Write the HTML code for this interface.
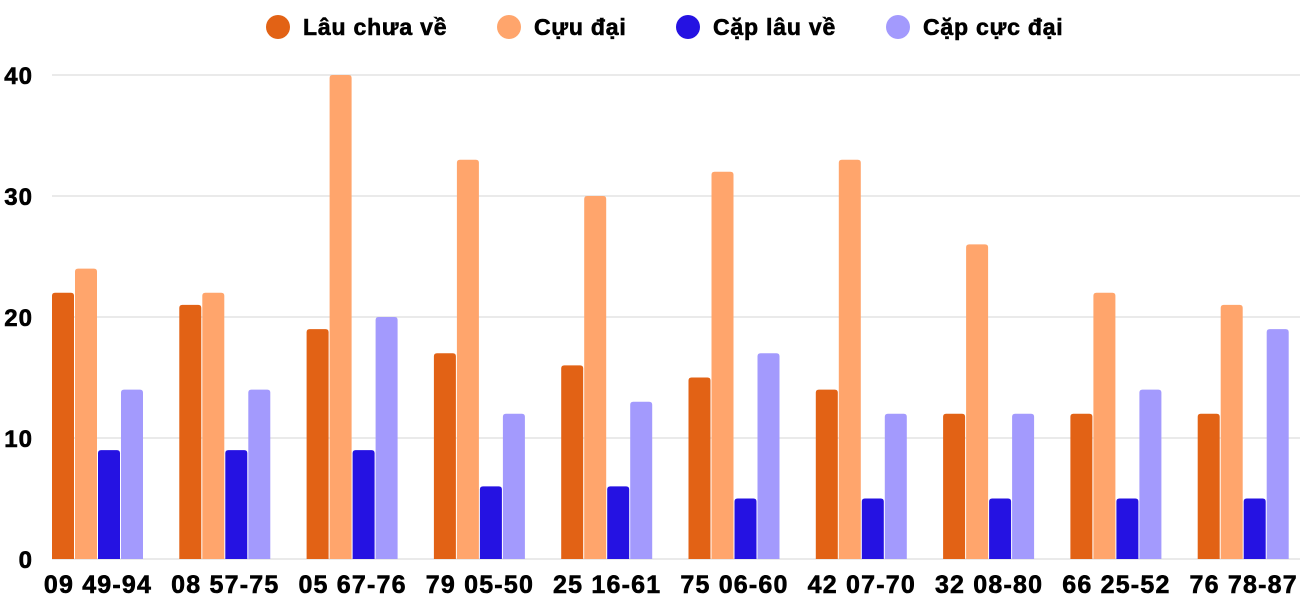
<!DOCTYPE html>
<html><head><meta charset="utf-8"><style>
body{margin:0;background:#fff;font-family:"Liberation Sans",sans-serif;}
svg text{font-family:"Liberation Sans",sans-serif;font-weight:bold;fill:#000;stroke:#000;stroke-width:0.6px;}
</style></head><body>
<svg id="chart" width="1300" height="600" viewBox="0 0 1300 600" xmlns="http://www.w3.org/2000/svg"></svg>
<script>
const categories=["09 49-94","08 57-75","05 67-76","79 05-50","25 16-61","75 06-60","42 07-70","32 08-80","66 25-52","76 78-87"];
const lauChuaVe=[22,21,19,17,16,15,14,12,12,12];
const cucDai=[24,22,40,33,30,32,33,26,22,21];
const capLauVe=[9,9,9,6,6,5,5,5,5,5];
const capCucDai=[14,14,20,12,13,17,12,12,14,19];
const yTicks=[0,10,20,30,40];
const seriesNames=["Lâu chưa về","Cựu đại","Cặp lâu về","Cặp cực đại"];
const colors=["#E26215","#FFA56C","#2512E2","#A39AFD"];
const series=[lauChuaVe,cucDai,capLauVe,capCucDai];
const NS="http://www.w3.org/2000/svg";
const svg=document.getElementById('chart');
const y0=559,pxPer=12.1,plotL=52,plotR=1300,groupW=127.3,barW=22,step=23;
const yS=v=>y0-v*pxPer;
function mk(t,a,p){const e=document.createElementNS(NS,t);for(const k in a)e.setAttribute(k,a[k]);(p||svg).appendChild(e);return e;}
yTicks.forEach(t=>{
  const l=mk('line',{x1:plotL,x2:plotR,y1:yS(t),y2:yS(t),stroke:'#d6d6d6','stroke-width':1});
  
  
  const tx=mk('text',{x:33,y:yS(t)+9,'text-anchor':'end','font-size':24,'letter-spacing':1});
  tx.textContent=t;
  
  
});
categories.forEach((c,i)=>{
  const gx=plotL+i*groupW;
  series.forEach((s,j)=>{
    const h=s[i]*pxPer;
    const r=mk('path',{d:`M${gx+j*step},${y0} V${y0-h+3} Q${gx+j*step},${y0-h} ${gx+j*step+3},${y0-h} H${gx+j*step+barW-3} Q${gx+j*step+barW},${y0-h} ${gx+j*step+barW},${y0-h+3} V${y0} Z`,fill:colors[j]});
    
    
  });
  const tx=mk('text',{x:gx+46,y:593,'text-anchor':'middle','font-size':25,'letter-spacing':1.2});
  tx.textContent=c;
  
  
});
const legX=[278,509,688,898];
seriesNames.forEach((n,j)=>{
  const g=mk('g',{});
  
  
  mk('circle',{cx:legX[j],cy:27,r:12,fill:colors[j]},g);
  const t=mk('text',{x:legX[j]+25,y:35,'font-size':23,'letter-spacing':0.8},g);
  t.textContent=n;
});
</script>
</body></html>
